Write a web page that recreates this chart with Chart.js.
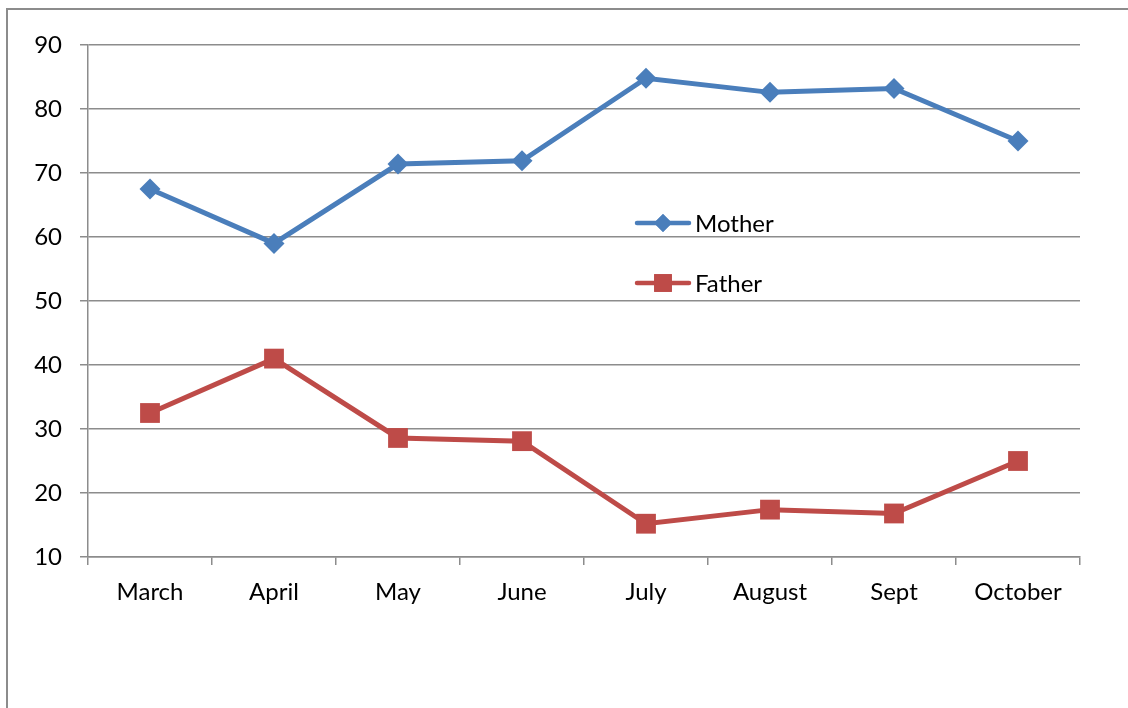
<!DOCTYPE html>
<html>
<head>
<meta charset="utf-8">
<script src="https://cdn.jsdelivr.net/npm/chart.js@4"></script>
<style>
  html, body { margin: 0; padding: 0; background: #fff; }
  #wrap { position: relative; width: 1128px; height: 708px; overflow: hidden; }
  #frame {
    position: absolute; left: 6px; top: 8px; width: 1140px; height: 720px;
    border: 2px solid #8c8c8c; box-sizing: border-box;
  }
  #myChart { position: absolute; left: 0; top: 0; }
</style>
</head>
<body>
<div id="wrap">
  <div id="frame"></div>
  <canvas id="myChart" width="1128" height="708"></canvas>
</div>
<script>
const months = ["March", "April", "May", "June", "July", "August", "Sept", "October"];
const mother = [67.5, 59, 71.4, 71.9, 84.8, 82.6, 83.2, 75];
const father = [32.5, 41, 28.6, 28.1, 15.2, 17.4, 16.8, 25];
const yTicks = [10, 20, 30, 40, 50, 60, 70, 80, 90];

const fontFamily = "Lato, 'Open Sans', sans-serif";

// legend drawn inside the plot, like the original
const innerLegend = {
  id: "innerLegend",
  afterDatasetsDraw(chart) {
    const ctx = chart.ctx;
    const rows = [
      { ds: chart.data.datasets[0], y: 223 },
      { ds: chart.data.datasets[1], y: 283 },
    ];
    ctx.save();
    rows.forEach((r) => {
      ctx.strokeStyle = r.ds.borderColor;
      ctx.lineWidth = 4.5;
      ctx.lineCap = "round";
      ctx.beginPath();
      ctx.moveTo(637, r.y);
      ctx.lineTo(689, r.y);
      ctx.stroke();
      ctx.fillStyle = r.ds.pointBackgroundColor;
      Chart.helpers.drawPoint(ctx, {
        pointStyle: r.ds.pointStyle,
        radius: r.ds.pointStyle === "rect" ? 12.5 : 9,
        borderWidth: 0,
      }, 663, r.y);
      ctx.fill();
      ctx.fillStyle = "#000";
      ctx.font = "24px " + fontFamily;
      ctx.textBaseline = "middle";
      ctx.fillText(r.ds.label, 695, r.y + 1);
    });
    ctx.restore();
  },
};

const ctx = document.getElementById("myChart");
new Chart(ctx, {
  type: "line",
  data: {
    labels: months,
    datasets: [
      {
        label: "Mother",
        data: mother,
        borderColor: "#4a7ebb",
        backgroundColor: "#4a7ebb",
        pointBackgroundColor: "#4a7ebb",
        pointBorderWidth: 0,
        borderWidth: 5,
        pointStyle: "rectRot",
        pointRadius: 10.5,
        tension: 0,
      },
      {
        label: "Father",
        data: father,
        borderColor: "#be4b48",
        backgroundColor: "#be4b48",
        pointBackgroundColor: "#be4b48",
        pointBorderWidth: 0,
        borderWidth: 5,
        pointStyle: "rect",
        pointRadius: 14,
        tension: 0,
      },
    ],
  },
  options: {
    responsive: false,
    animation: false,
    layout: { padding: { top: 45, right: 48, left: 0, bottom: 0 } },
    plugins: {
      legend: { display: false },
      tooltip: { enabled: false },
    },
    scales: {
      x: {
        offset: true,
        grid: {
          offset: true,
          drawOnChartArea: false,
          drawTicks: true,
          tickLength: 8,
          color: "#8c8c8c",
          lineWidth: 1.5,
        },
        border: { display: true, color: "#8c8c8c", width: 1.5 },
        ticks: {
          color: "#000",
          font: { family: fontFamily, size: 24 },
          padding: 13,
          maxRotation: 0,
          autoSkip: false,
        },
        afterFit(scale) {
          scale.height = 151;
        },
      },
      y: {
        min: 10,
        max: 90,
        afterBuildTicks(scale) {
          scale.ticks = yTicks.map((v) => ({ value: v }));
        },
        grid: {
          color: "#8c8c8c",
          lineWidth: 1.5,
          tickLength: 8,
        },
        border: { display: true, color: "#8c8c8c", width: 1.5 },
        ticks: {
          color: "#000",
          font: { family: fontFamily, size: 24 },
          padding: 18,
        },
        afterFit(scale) {
          scale.width = 88;
        },
      },
    },
  },
  plugins: [innerLegend],
});
</script>
</body>
</html>
